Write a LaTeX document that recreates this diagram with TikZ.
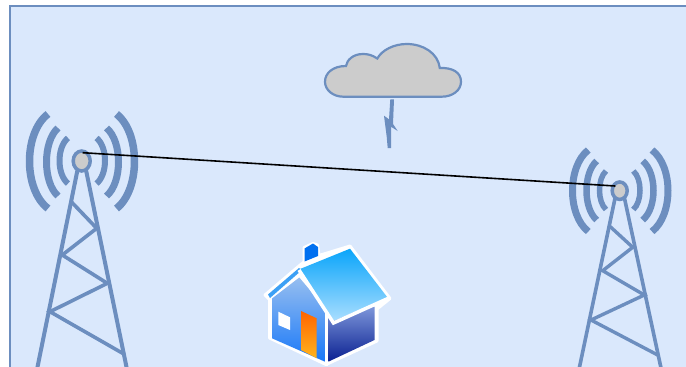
\documentclass[tikz,border=0pt]{standalone}
\usetikzlibrary{shapes.geometric}
\definecolor{bgfill}{HTML}{DAE8FC}
\definecolor{bluest}{HTML}{6C8EBF}
\definecolor{cloudgray}{HTML}{CCCCCC}
\definecolor{wallTop}{RGB}{150,190,240}
\definecolor{wallBot}{RGB}{25,120,248}
\definecolor{sideTop}{RGB}{125,150,218}
\definecolor{sideBot}{RGB}{10,32,145}
\definecolor{doorTop}{RGB}{255,100,0}
\definecolor{doorBot}{RGB}{255,180,30}
\definecolor{roofTop}{RGB}{10,165,250}
\definecolor{roofBot}{RGB}{170,222,255}
\definecolor{chimney}{RGB}{0,112,240}
\definecolor{eave}{RGB}{60,160,245}
\tikzset{
  x=1pt,y=-1pt,
  leg/.style={draw=bluest,line width=4pt,line cap=butt,line join=miter},
  wave/.style={draw=bluest,line cap=butt},
  mast/.style={draw=bluest,fill=cloudgray,ellipse},
  link/.style={draw=black,line width=1.6pt}
}
% x0, y0, y1, bulge-x, width
\newcommand{\wavearc}[5]{\draw[wave,line width=#5pt] (#1,#2) .. controls ({#1+(#4-#1)*1.333},{#2+(#3-#2)*0.2}) and ({#1+(#4-#1)*1.333},{#3-(#3-#2)*0.2}) .. (#1,#3);}
\begin{document}
\begin{tikzpicture}
\useasboundingbox (0,0) rectangle (686,367);
\begin{scope}
\clip (0,0) rectangle (686,367);
\draw[draw=bluest,fill=bgfill,line width=2pt] (10.3,6) rectangle (700,380);

% left tower
\draw[leg] (77.5,170) -- (37.3,368);
\draw[leg] (86,170) -- (126.7,368);
\draw[leg,line width=3.6pt] (71.5,202) -- (96.7,228.3) -- (62.3,255) -- (107.3,283.3) -- (50,311.7) -- (122.7,353.3);
\wavearc{68}{138}{183.5}{59.5}{6}
\wavearc{58}{128}{196}{46.5}{7}
\wavearc{48}{114}{208.5}{29.5}{7.5}
\wavearc{96.5}{138}{183.5}{105}{6}
\wavearc{106.5}{128}{196}{118.5}{7}
\wavearc{116.5}{114}{208.5}{134.5}{7.5}
\node[mast,line width=3.5pt,minimum width=17pt,minimum height=20pt,inner sep=0pt] (mastA) at (81.7,161) {};

% right tower
\draw[leg,line width=3.6pt] (615.5,196) -- (579.3,368);
\draw[leg,line width=3.6pt] (624,196) -- (661,368);
\draw[leg,line width=3.4pt] (609.5,226) -- (632.7,247.3) -- (602.7,270.7) -- (644.3,295) -- (591,320) -- (657.7,355);
\wavearc{606}{171}{209.5}{599.5}{5.5}
\wavearc{596.7}{161}{220}{586.5}{6.5}
\wavearc{588.3}{150}{231.5}{572.5}{7}
\wavearc{633.3}{171}{209.5}{640}{5.5}
\wavearc{642.7}{161}{220}{653.5}{6.5}
\wavearc{652}{150}{231.5}{668}{7}
\node[mast,line width=3.5pt,minimum width=15pt,minimum height=17.5pt,inner sep=0pt] (mastB) at (619.7,190.7) {};

% link
\coordinate (linkA) at (82.7,152.7);
\coordinate (linkB) at (615.3,186);
\draw[link] (linkA) -- (linkB);

% cloud
\draw[draw=bluest,fill=cloudgray,line width=2.2pt]
  (343.3,96.7) -- (441.7,96.7)
  .. controls (453,96.7) and (461,90) .. (461,81.7)
  .. controls (461,72) and (452,67.5) .. (439.8,68)
  .. controls (438,53) and (423,44) .. (406.7,44)
  .. controls (394,44) and (382,50) .. (377.3,58.5)
  .. controls (372,55) and (368,54) .. (363,54)
  .. controls (353,54) and (347,60) .. (346,66)
  .. controls (333,66) and (325,73) .. (325,81.7)
  .. controls (325,90) and (333,96.7) .. (343.3,96.7) -- cycle;
% bolt
\fill[bluest] (390.3,99.3) -- (394,99.3) -- (393,124) -- (397.7,131) -- (391,126.7) -- (391,148) -- (387.7,148) -- (386.7,136.7) -- (384,115.7) -- (389,119.3) -- cycle;

% house
\fill[white,draw=white,line width=3pt,line join=round]
  (265,295) -- (269.5,299.5) -- (269.5,338) -- (326,364.5) -- (377,341) -- (377,309) -- (390,298.5)
  -- (350,246) -- (319,255.5) -- (317.5,245) -- (313,243.5) -- (304,247.5) -- (304,262) -- (299,266) -- cycle;
\fill[eave] (268,294.5) -- (299,268) -- (302,270) -- (270,298) -- cycle;
\shade[top color=wallTop,bottom color=wallBot]
  (299.3,277.5) -- (325,308) -- (325,361.7) -- (272,338.3) -- (272,298.5) -- cycle;
\shade[top color=sideTop,bottom color=sideBot]
  (328.3,318) -- (374.5,306.7) -- (374.5,340) -- (328.3,361.7) -- cycle;
\fill[white] (278.3,311.7) -- (290,317.3) -- (290,330) -- (278.3,325) -- cycle;
\shade[top color=doorTop,bottom color=doorBot]
  (301,311) -- (316.7,318.3) -- (316.7,358.3) -- (301,350) -- cycle;
\draw[white,line width=3.5pt] (326.5,308) -- (326.5,366);
\shade[top color=roofTop,bottom color=roofBot]
  (350,248.7) -- (387.5,297.5) -- (333.5,321) -- (300,269) -- cycle;
\draw[white,line width=3.5pt,line join=miter] (299,270) -- (333.5,323) -- (389,298);
\fill[chimney] (304.5,248.5) -- (313,243.5) -- (318,247) -- (318,256) -- (304.5,261.5) -- cycle;
\end{scope}
\end{tikzpicture}
\end{document}
